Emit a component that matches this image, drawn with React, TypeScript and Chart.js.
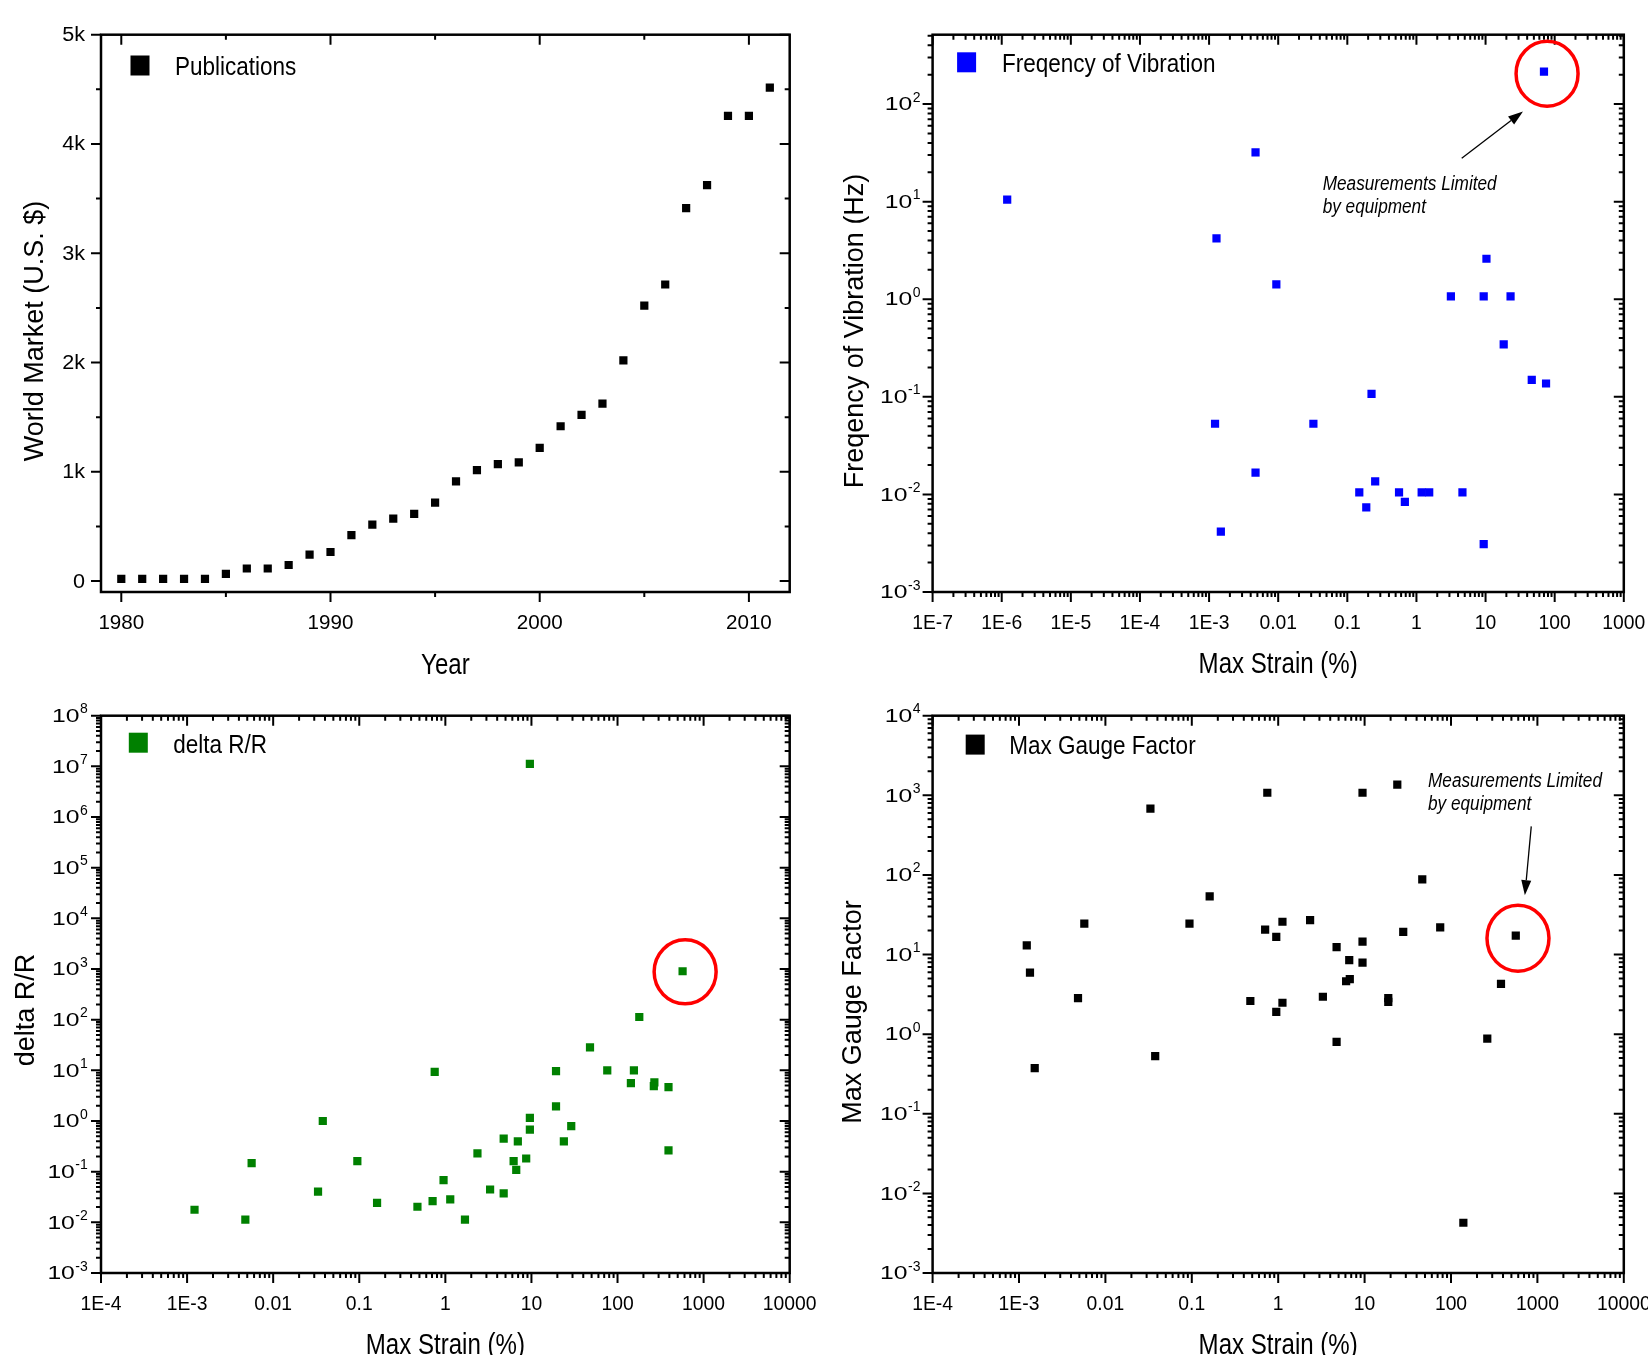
import React, { useEffect, useRef } from "react";
import { Chart, registerables } from "chart.js";

Chart.register(...registerables);

// ---------------- data ----------------
const pubYears = [1980, 1981, 1982, 1983, 1984, 1985, 1986, 1987, 1988, 1989, 1990, 1991, 1992, 1993, 1994, 1995,
  1996, 1997, 1998, 1999, 2000, 2001, 2002, 2003, 2004, 2005, 2006, 2007, 2008, 2009, 2010, 2011];
const pubValues = [20, 20, 20, 20, 20, 65, 115, 115, 147, 242, 266, 421, 516, 571, 615, 718,
  913, 1016, 1071, 1087, 1218, 1417, 1520, 1623, 2020, 2520, 2714, 3413, 3623, 4258, 4258, 4516];

const vibStrain = [1.2e-6, 0.0047, 0.00128, 0.0094, 0.00122, 0.0323, 0.0047, 0.00148, 0.224, 0.149, 0.188, 0.253,
  0.56, 0.68, 1.19, 1.53, 4.63, 9.4, 3.15, 9.4, 23, 10.3, 18.3, 46.6, 75, 70];
const vibFreq = [10.5, 32, 4.2, 1.42, 0.053, 0.053, 0.0167, 0.00415, 0.107, 0.0105, 0.00736, 0.0136,
  0.0105, 0.0084, 0.0105, 0.0105, 0.0105, 0.0031, 1.07, 1.07, 1.07, 2.6, 0.345, 0.149, 0.137, 215];

const drStrain = [0.00122, 0.00475, 0.00562, 0.0332, 0.0377, 0.095, 0.161, 0.474, 0.711, 0.752, 0.953, 1.14, 1.69,
  2.36, 3.31, 4.76, 4.76, 6.21, 6.66, 6.95, 8.69, 9.59, 9.59, 9.59, 19.3, 19.3, 23.8, 29, 47.9, 76, 143, 155, 179,
  264, 268, 391, 391, 570];
const drValue = [0.0177, 0.0113, 0.147, 0.0404, 1.0, 0.162, 0.0243, 0.0203, 0.0262, 9.3, 0.0684, 0.0284, 0.0113,
  0.23, 0.0445, 0.0373, 0.448, 0.162, 0.109, 0.398, 0.182, 1.15, 0.675, 1.12e7, 1.94, 9.66, 0.398, 0.789, 28.3, 10.0,
  5.58, 10.0, 113, 4.86, 5.8, 4.68, 0.264, 903];

const gfStrain = [0.00123, 0.00134, 0.00152, 0.00482, 0.0057, 0.0332, 0.0377, 0.094, 0.161, 0.476, 0.706, 0.748,
  0.95, 0.95, 1.12, 1.12, 2.34, 3.29, 4.74, 4.74, 6.11, 6.74, 6.64, 9.46, 9.46, 9.46, 18.8, 18.8, 23.9, 28, 46.5, 75,
  139, 263, 379, 562];
const gfValue = [13, 5.93, 0.374, 2.84, 24.5, 679, 0.53, 24.5, 53.7, 2.61, 20.6, 1077, 16.7, 1.91, 25.8, 2.48, 27,
  2.95, 12.4, 0.8, 4.62, 4.92, 8.5, 14.5, 7.9, 1077, 2.84, 2.54, 1365, 19.3, 88, 21.9, 0.00428, 0.88, 4.29, 17.3];

// ---------------- ticks ----------------
const tlXTicks = [1980, 1990, 2000, 2010];
const tlXTickLabels = ["1980", "1990", "2000", "2010"];
const tlXMinor = [1985, 1995, 2005];
const tlYTicks = [0, 1000, 2000, 3000, 4000, 5000];
const tlYTickLabels = ["0", "1k", "2k", "3k", "4k", "5k"];
const tlYMinor = [500, 1500, 2500, 3500, 4500];

const trXTicks = [1e-7, 1e-6, 1e-5, 1e-4, 1e-3, 0.01, 0.1, 1, 10, 100, 1000];
const trXTickLabels = ["1E-7", "1E-6", "1E-5", "1E-4", "1E-3", "0.01", "0.1", "1", "10", "100", "1000"];
const trYTicks = [1e-3, 1e-2, 1e-1, 1, 10, 100];
const trYTickExps = ["-3", "-2", "-1", "0", "1", "2"];

const strainTicks = [1e-4, 1e-3, 0.01, 0.1, 1, 10, 100, 1000, 10000];
const strainTickLabels = ["1E-4", "1E-3", "0.01", "0.1", "1", "10", "100", "1000", "10000"];
const blYTicks = [1e-3, 1e-2, 1e-1, 1, 10, 100, 1e3, 1e4, 1e5, 1e6, 1e7, 1e8];
const blYTickExps = ["-3", "-2", "-1", "0", "1", "2", "3", "4", "5", "6", "7", "8"];
const brYTicks = [1e-3, 1e-2, 1e-1, 1, 10, 100, 1e3, 1e4];
const brYTickExps = ["-3", "-2", "-1", "0", "1", "2", "3", "4"];

function logMinor(min: number, max: number): number[] {
  const out: number[] = [];
  for (let e = Math.floor(Math.log10(min)); e <= Math.ceil(Math.log10(max)); e++) {
    for (let m = 2; m <= 9; m++) {
      const v = m * Math.pow(10, e);
      if (v > min * 1.0001 && v < max * 0.9999) out.push(v);
    }
  }
  return out;
}

const FAMILY = '"Liberation Sans", Arial, Helvetica, sans-serif';

type TextOpts = {
  size: number;
  sx?: number;
  italic?: boolean;
  align?: CanvasTextAlign;
  baseline?: CanvasTextBaseline;
  rotate?: number;
};

function drawText(ctx: CanvasRenderingContext2D, text: string, x: number, y: number, o: TextOpts) {
  ctx.save();
  ctx.translate(x, y);
  if (o.rotate) ctx.rotate(o.rotate);
  ctx.scale(o.sx ?? 1, 1);
  ctx.font = `${o.italic ? "italic " : ""}${o.size}px ${FAMILY}`;
  ctx.textAlign = o.align ?? "left";
  ctx.textBaseline = o.baseline ?? "alphabetic";
  ctx.fillStyle = "#000";
  ctx.fillText(text, 0, 0);
  ctx.restore();
}

type Ann = {
  circle?: { x: number; y: number; rx: number; ry: number };
  arrow?: { x1: number; y1: number; x2: number; y2: number };
  texts?: { x: number; y: number; t: string }[];
};

type PanelCfg = {
  id: string;
  box: { left: number; top: number; w: number; h: number };
  pad: { left: number; top: number; right: number; bottom: number };
  xType: "linear" | "logarithmic";
  yType: "linear" | "logarithmic";
  xMin: number; xMax: number; yMin: number; yMax: number;
  label: string;
  color: string;
  xs: number[];
  ys: number[];
  xTicks: number[]; xLabels: string[]; xMinor: number[];
  yTicks: number[]; yLabels?: string[]; yExps?: string[]; yMinor: number[];
  xTitle: string; yTitle: string;
  xLabelSize: number; xLabelSx: number;
  yLabelSize: number; yLabelSx: number; yLabelGap: number;
  yTitleDx: number; yTitleDy: number;
  xTitleDy: number;
  legendDx: number; legendDy: number; legendTextDx: number;
  ann?: Ann;
};

const panels: PanelCfg[] = [
  {
    id: "tl",
    box: { left: 0, top: 0, w: 824, h: 678 },
    pad: { left: 101, top: 34.7, right: 34.3, bottom: 86 },
    xType: "linear", yType: "linear",
    xMin: 1979.03, xMax: 2011.95, yMin: -100, yMax: 5000,
    label: "Publications", color: "#000000",
    xs: pubYears, ys: pubValues,
    xTicks: tlXTicks, xLabels: tlXTickLabels, xMinor: tlXMinor,
    yTicks: tlYTicks, yLabels: tlYTickLabels, yMinor: tlYMinor,
    xTitle: "Year", yTitle: "World Market (U.S. $)",
    xLabelSize: 20, xLabelSx: 1.03,
    yLabelSize: 20, yLabelSx: 1.08, yLabelGap: 16,
    yTitleDx: -58.5, yTitleDy: 17.6, xTitleDy: 82,
    legendDx: 39, legendDy: 30.8, legendTextDx: 74,
  },
  {
    id: "tr",
    box: { left: 824, top: 0, w: 824, h: 678 },
    pad: { left: 108.6, top: 34.7, right: 24.2, bottom: 86 },
    xType: "logarithmic", yType: "logarithmic",
    xMin: 1e-7, xMax: 1000, yMin: 1e-3, yMax: 514,
    label: "Freqency of Vibration", color: "#0000ff",
    xs: vibStrain, ys: vibFreq,
    xTicks: trXTicks, xLabels: trXTickLabels, xMinor: logMinor(1e-7, 1000),
    yTicks: trYTicks, yExps: trYTickExps, yMinor: logMinor(1e-3, 514),
    xTitle: "Max Strain (%)", yTitle: "Freqency of Vibration (Hz)",
    xLabelSize: 21, xLabelSx: 0.92,
    yLabelSize: 19, yLabelSx: 1.3, yLabelGap: 12.6,
    yTitleDx: -69.6, yTitleDy: 17.6, xTitleDy: 81,
    legendDx: 34, legendDy: 27.6, legendTextDx: 69.4,
    ann: {
      circle: { x: 77.6, y: 205, rx: 31, ry: 32.5 },
      arrow: { x1: 4.52, y1: 27.9, x2: 34.8, y2: 84.1 },
      texts: [
        { x: 0.044, y: 13.2, t: "Measurements Limited" },
        { x: 0.044, y: 7.57, t: "by equipment" },
      ],
    },
  },
  {
    id: "bl",
    box: { left: 0, top: 678, w: 824, h: 677 },
    pad: { left: 101, top: 37.7, right: 34.3, bottom: 82 },
    xType: "logarithmic", yType: "logarithmic",
    xMin: 1e-4, xMax: 1e4, yMin: 1e-3, yMax: 1e8,
    label: "delta R/R", color: "#008000",
    xs: drStrain, ys: drValue,
    xTicks: strainTicks, xLabels: strainTickLabels, xMinor: logMinor(1e-4, 1e4),
    yTicks: blYTicks, yExps: blYTickExps, yMinor: logMinor(1e-3, 1e8),
    xTitle: "Max Strain (%)", yTitle: "delta R/R",
    xLabelSize: 21, xLabelSx: 0.92,
    yLabelSize: 19, yLabelSx: 1.3, yLabelGap: 13.7,
    yTitleDx: -67, yTitleDy: 15.6, xTitleDy: 81,
    legendDx: 37.3, legendDy: 27, legendTextDx: 72.3,
    ann: {
      circle: { x: 610, y: 879, rx: 31, ry: 32 },
    },
  },
  {
    id: "br",
    box: { left: 824, top: 678, w: 824, h: 677 },
    pad: { left: 108.6, top: 37.7, right: 24.2, bottom: 82 },
    xType: "logarithmic", yType: "logarithmic",
    xMin: 1e-4, xMax: 1e4, yMin: 1e-3, yMax: 1e4,
    label: "Max Gauge Factor", color: "#000000",
    xs: gfStrain, ys: gfValue,
    xTicks: strainTicks, xLabels: strainTickLabels, xMinor: logMinor(1e-4, 1e4),
    yTicks: brYTicks, yExps: brYTickExps, yMinor: logMinor(1e-3, 1e4),
    xTitle: "Max Strain (%)", yTitle: "Max Gauge Factor",
    xLabelSize: 21, xLabelSx: 0.92,
    yLabelSize: 19, yLabelSx: 1.3, yLabelGap: 12.6,
    yTitleDx: -71.6, yTitleDy: 17.6, xTitleDy: 81,
    legendDx: 42.6, legendDy: 28.9, legendTextDx: 76.7,
    ann: {
      circle: { x: 596, y: 16.0, rx: 31, ry: 33 },
      arrow: { x1: 849, y1: 407, x2: 716, y2: 55.7 },
      texts: [
        { x: 54.2, y: 1274, t: "Measurements Limited" },
        { x: 54.2, y: 646, t: "by equipment" },
      ],
    },
  },
];

function makeFramePlugin(cfg: PanelCfg) {
  return {
    id: "frame_" + cfg.id,
    afterDraw(chart: any) {
      const ctx: CanvasRenderingContext2D = chart.ctx;
      const { left, right, top, bottom } = chart.chartArea;
      const xs = chart.scales.x;
      const ys = chart.scales.y;
      const MAJ = 10;
      const MIN = 5;

      ctx.save();
      ctx.strokeStyle = "#000";
      ctx.lineCap = "butt";

      // ticks
      ctx.lineWidth = 2;
      const xLine = (v: number, len: number) => {
        const px = xs.getPixelForValue(v);
        ctx.beginPath();
        ctx.moveTo(px, bottom);
        ctx.lineTo(px, bottom + len);
        ctx.moveTo(px, top);
        ctx.lineTo(px, top + len);
        ctx.stroke();
      };
      const yLine = (v: number, len: number) => {
        const py = ys.getPixelForValue(v);
        ctx.beginPath();
        ctx.moveTo(left - len, py);
        ctx.lineTo(left, py);
        ctx.moveTo(right - len, py);
        ctx.lineTo(right, py);
        ctx.stroke();
      };
      cfg.xMinor.forEach((v) => xLine(v, MIN));
      cfg.xTicks.forEach((v) => xLine(v, MAJ));
      cfg.yMinor.forEach((v) => yLine(v, MIN));
      cfg.yTicks.forEach((v) => yLine(v, MAJ));

      // frame
      ctx.lineWidth = 2.5;
      ctx.strokeRect(left, top, right - left, bottom - top);

      // x tick labels
      cfg.xTicks.forEach((v, i) => {
        const px = xs.getPixelForValue(v);
        drawText(ctx, cfg.xLabels[i], px, bottom + 37, {
          size: cfg.xLabelSize, sx: cfg.xLabelSx, align: "center",
        });
      });

      // y tick labels
      cfg.yTicks.forEach((v, i) => {
        const py = ys.getPixelForValue(v);
        const xr = left - cfg.yLabelGap;
        if (cfg.yLabels) {
          drawText(ctx, cfg.yLabels[i], xr, py + 1, {
            size: cfg.yLabelSize, sx: cfg.yLabelSx, align: "right", baseline: "middle",
          });
        } else if (cfg.yExps) {
          const exp = cfg.yExps[i];
          ctx.font = `14px ${FAMILY}`;
          const we = ctx.measureText(exp).width;
          drawText(ctx, "10", xr - we, py + 1, {
            size: cfg.yLabelSize, sx: cfg.yLabelSx, align: "right", baseline: "middle",
          });
          drawText(ctx, exp, xr - we + 0.5, py - 2.5, { size: 14, align: "left" });
        }
      });

      // axis titles
      drawText(ctx, cfg.xTitle, (left + right) / 2, bottom + cfg.xTitleDy, {
        size: 29, sx: 0.83, align: "center",
      });
      drawText(ctx, cfg.yTitle, left + cfg.yTitleDx, (top + bottom) / 2 + cfg.yTitleDy, {
        size: 27, align: "center", rotate: -Math.PI / 2,
      });

      // legend
      const lx = left + cfg.legendDx;
      const ly = top + cfg.legendDy;
      ctx.fillStyle = cfg.color;
      ctx.fillRect(lx - 9.5, ly - 10, 19, 20);
      drawText(ctx, cfg.label, left + cfg.legendTextDx, ly + 3, {
        size: 25, sx: 0.9, align: "left", baseline: "middle",
      });

      // annotations
      const ann = cfg.ann;
      if (ann) {
        if (ann.circle) {
          const cx = xs.getPixelForValue(ann.circle.x);
          const cy = ys.getPixelForValue(ann.circle.y);
          ctx.strokeStyle = "#ff0000";
          ctx.lineWidth = 3.5;
          ctx.beginPath();
          ctx.ellipse(cx, cy, ann.circle.rx, ann.circle.ry, 0, 0, Math.PI * 2);
          ctx.stroke();
        }
        if (ann.arrow) {
          const x1 = xs.getPixelForValue(ann.arrow.x1);
          const y1 = ys.getPixelForValue(ann.arrow.y1);
          const x2 = xs.getPixelForValue(ann.arrow.x2);
          const y2 = ys.getPixelForValue(ann.arrow.y2);
          const ang = Math.atan2(y2 - y1, x2 - x1);
          const hl = 15;
          const hw = 5;
          const bx = x2 - hl * Math.cos(ang);
          const by = y2 - hl * Math.sin(ang);
          ctx.strokeStyle = "#000";
          ctx.fillStyle = "#000";
          ctx.lineWidth = 1.3;
          ctx.beginPath();
          ctx.moveTo(x1, y1);
          ctx.lineTo(bx, by);
          ctx.stroke();
          ctx.beginPath();
          ctx.moveTo(x2, y2);
          ctx.lineTo(bx + hw * Math.sin(ang), by - hw * Math.cos(ang));
          ctx.lineTo(bx - hw * Math.sin(ang), by + hw * Math.cos(ang));
          ctx.closePath();
          ctx.fill();
        }
        (ann.texts || []).forEach((t) => {
          drawText(ctx, t.t, xs.getPixelForValue(t.x), ys.getPixelForValue(t.y), {
            size: 20, sx: 0.86, italic: true, align: "left",
          });
        });
      }
      ctx.restore();
    },
  };
}

function Panel({ cfg }: { cfg: PanelCfg }) {
  const ref = useRef<HTMLCanvasElement>(null);
  useEffect(() => {
    if (!ref.current) return;
    const chart = new Chart(ref.current, {
      type: "scatter",
      data: {
        datasets: [
          {
            label: cfg.label,
            data: cfg.xs.map((x, i) => ({ x, y: cfg.ys[i] })),
            pointStyle: "rect",
            pointRadius: 5.8,
            pointHoverRadius: 5.8,
            backgroundColor: cfg.color,
            borderColor: cfg.color,
            borderWidth: 0,
            showLine: false,
          } as any,
        ],
      },
      options: {
        animation: false,
        responsive: false,
        devicePixelRatio: 1,
        events: [],
        layout: { padding: cfg.pad },
        plugins: { legend: { display: false }, tooltip: { enabled: false } },
        scales: {
          x: { type: cfg.xType, min: cfg.xMin, max: cfg.xMax, display: false },
          y: { type: cfg.yType, min: cfg.yMin, max: cfg.yMax, display: false },
        },
      } as any,
      plugins: [makeFramePlugin(cfg)],
    });
    return () => chart.destroy();
  }, [cfg]);
  return (
    <canvas
      ref={ref}
      width={cfg.box.w}
      height={cfg.box.h}
      style={{
        position: "absolute",
        left: cfg.box.left,
        top: cfg.box.top,
        width: cfg.box.w,
        height: cfg.box.h,
      }}
    />
  );
}

export default function App() {
  return (
    <div
      style={{
        position: "absolute",
        left: 0,
        top: 0,
        width: 1648,
        height: 1355,
        background: "#ffffff",
        overflow: "hidden",
      }}
    >
      {panels.map((p) => (
        <Panel key={p.id} cfg={p} />
      ))}
    </div>
  );
}
